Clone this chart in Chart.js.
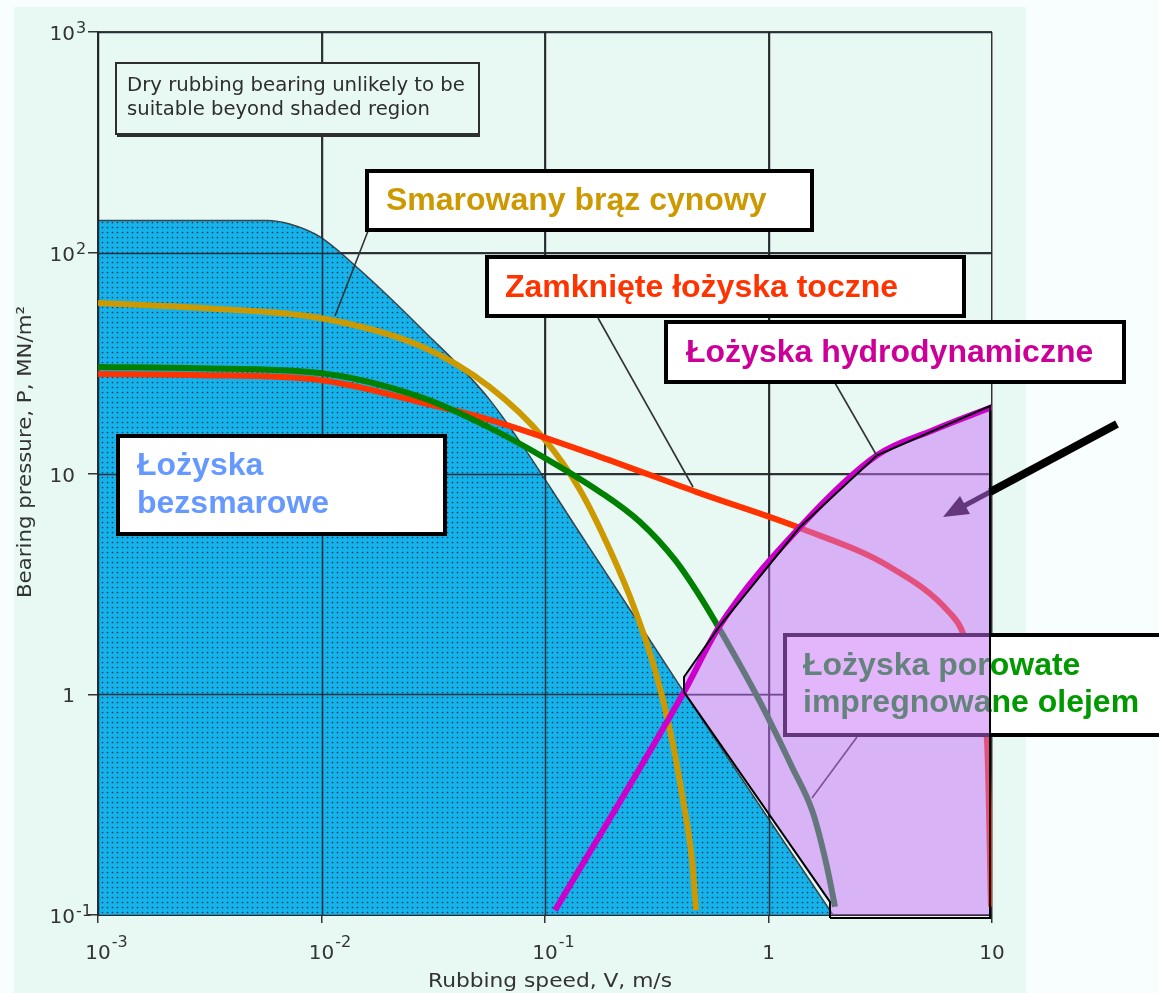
<!DOCTYPE html>
<html>
<head>
<meta charset="utf-8">
<script src="https://cdn.jsdelivr.net/npm/chart.js@4.4.1/dist/chart.umd.min.js"></script>
<style>
  html, body { margin: 0; padding: 0; background: #f8fdfd; overflow: hidden; }
  canvas { display: block; }
</style>
</head>
<body>
<canvas id="c" width="1159" height="993"></canvas>
<script>
// Decade ticks and their printed labels as [base, exponent]
const speedTicks = [0.001, 0.01, 0.1, 1, 10];
const speedTickLabels = [['10', '-3'], ['10', '-2'], ['10', '-1'], ['1', ''], ['10', '']];
const pressureTicks = [0.1, 1, 10, 100, 1000];
const pressureTickLabels = [['10', '-1'], ['1', ''], ['10', ''], ['10', '2'], ['10', '3']];

// Upper limit of dry rubbing bearings (shaded region), V in m/s, P in MN/m2
const dryV = [0.001, 0.0057, 0.0072, 0.00985, 0.0144, 0.0284, 0.0567, 0.155, 0.419, 1.944];
const dryP = [140, 140, 135, 118, 86, 44.7, 21.5, 4.75, 1.02, 0.1];

// Lubricated tin bronze
const bronzeV = [0.001, 0.00286, 0.00985, 0.0284, 0.0567, 0.1, 0.1434, 0.1953, 0.2528, 0.3106, 0.3624, 0.4144, 0.4546, 0.4739];
const bronzeP = [59.2, 56.2, 50.6, 37.4, 24.6, 14.2, 8.42, 4.50, 2.41, 1.29, 0.689, 0.332, 0.178, 0.105];

// Sealed rolling bearings
const rollingV = [0.001, 0.00286, 0.00985, 0.0284, 0.0567, 0.1762, 0.4887, 1.383, 3.497, 6.487, 7.418, 8.391, 9.497, 9.9];
const rollingP = [28.2, 27.9, 26.5, 20.9, 17.5, 11.9, 8.17, 5.66, 3.77, 2.33, 1.89, 1.16, 0.621, 0.109];

// Porous oil-impregnated bearings
const porousV = [0.001, 0.00286, 0.00985, 0.0284, 0.0567, 0.1, 0.1762, 0.2661, 0.3817, 0.4887, 0.6193, 0.9066, 1.274, 1.581, 1.827, 1.984];
const porousP = [30.4, 30.0, 28.5, 22.0, 16.1, 11.75, 8.25, 6.03, 4.06, 2.82, 1.89, 0.942, 0.468, 0.29, 0.165, 0.109];

// Hydrodynamic bearings: lower limit curve
const hydroV = [0.1109, 0.4187, 0.6005, 1.383, 3.058, 5.445, 10];
const hydroP = [0.105, 1.024, 2.02, 5.72, 12.1, 15.7, 20.0];

// Hydrodynamic operating zone (closed outline)
const zoneV = [1.884, 1.884, 0.4187, 0.4187, 0.6005, 1.383, 3.058, 9.797, 9.797, 1.884];
const zoneP = [0.0969, 0.1146, 1.024, 1.197, 2.02, 5.72, 12.1, 20.2, 0.0969, 0.0969];

const pts = (vs, ps) => vs.map((v, i) => ({ x: v, y: ps[i] }));

const canvas = document.getElementById('c');
const ctx = canvas.getContext('2d');

// Halftone dot fill for the dry-rubbing region
function dotPattern() {
  const t = document.createElement('canvas');
  t.width = 5; t.height = 5;
  const g = t.getContext('2d');
  g.fillStyle = '#15b3ec';
  g.fillRect(0, 0, 5, 5);
  g.fillStyle = 'rgba(22,40,58,0.85)';
  g.beginPath();
  g.arc(2.5, 2.5, 0.85, 0, Math.PI * 2);
  g.fill();
  return ctx.createPattern(t, 'repeat');
}

const IDX = { dry: 0, bronze: 1, rolling: 2, porous: 3, zone: 4, hydro: 5, outline: 6 };
const FONT_HAND = '"DejaVu Sans", sans-serif';
const FONT_LABEL = '"Liberation Sans", Arial, sans-serif';

function fitText(c, str, x, y, font, color, align, width) {
  c.save();
  c.font = font;
  c.fillStyle = color;
  c.textBaseline = 'alphabetic';
  c.textAlign = 'left';
  const w = c.measureText(str).width;
  const sx = width ? width / w : 1;
  const drawnW = w * sx;
  let x0 = x;
  if (align === 'center') x0 = x - drawnW / 2;
  if (align === 'right') x0 = x - drawnW;
  c.translate(x0, y);
  c.scale(sx, 1);
  c.fillText(str, 0, 0);
  c.restore();
}

function labelBox(c, x0, y0, x1, y1, lines, color, tx, baselines) {
  c.save();
  c.fillStyle = '#ffffff';
  c.fillRect(x0, y0, x1 - x0, y1 - y0);
  c.lineWidth = 4;
  c.strokeStyle = '#000000';
  c.strokeRect(x0 + 2, y0 + 2, x1 - x0 - 4, y1 - y0 - 4);
  c.font = 'bold 32px ' + FONT_LABEL;
  c.fillStyle = color;
  c.textAlign = 'left';
  c.textBaseline = 'alphabetic';
  lines.forEach((s, i) => c.fillText(s, tx, baselines[i]));
  c.restore();
}

function segment(c, x0, y0, x1, y1, w, color) {
  c.save();
  c.strokeStyle = color;
  c.lineWidth = w;
  c.beginPath();
  c.moveTo(x0, y0);
  c.lineTo(x1, y1);
  c.stroke();
  c.restore();
}

const layers = {
  id: 'layers',
  beforeDraw(chart) {
    const c = chart.ctx;
    c.save();
    c.fillStyle = '#f8fdfd';
    c.fillRect(0, 0, chart.width, chart.height);
    c.fillStyle = '#e8f8f3';
    c.fillRect(14, 7, 1012, chart.height - 7);
    c.restore();
  },
  afterDatasetDraw(chart, args) {
    const c = chart.ctx;
    const { left, right, top, bottom } = chart.chartArea;
    if (args.index === IDX.dry) {
      // decade grid stays visible through the shaded region
      c.save();
      c.beginPath();
      c.rect(left, top, right - left, bottom - top);
      c.clip();
      c.strokeStyle = 'rgba(28,36,44,0.9)';
      c.lineWidth = 1.5;
      speedTicks.forEach(v => {
        const x = Math.round(chart.scales.x.getPixelForValue(v)) + 0.5;
        c.beginPath(); c.moveTo(x, top); c.lineTo(x, bottom); c.stroke();
      });
      pressureTicks.forEach(v => {
        const y = Math.round(chart.scales.y.getPixelForValue(v)) + 0.5;
        c.beginPath(); c.moveTo(left, y); c.lineTo(right, y); c.stroke();
      });
      c.restore();
    }
    if (args.index === IDX.porous) {
      // items lying under the translucent hydrodynamic zone
      segment(c, 857, 737, 812, 798, 1.6, '#333333');
      labelBox(c, 783, 633, 1163, 737, ['Łożyska porowate', 'impregnowane olejem'], '#009900', 803, [675, 712]);
      // pointer arrow
      segment(c, 1117, 424, 990, 492, 8, '#000000');
      segment(c, 990, 492, 962, 507, 5, '#000000');
      c.save();
      c.fillStyle = '#000000';
      c.beginPath();
      c.moveTo(943, 517);
      c.lineTo(960, 496);
      c.lineTo(970, 514);
      c.closePath();
      c.fill();
      c.restore();
    }
  },
  afterDatasetsDraw(chart) {
    const c = chart.ctx;
    // leader lines
    segment(c, 368, 231, 335, 316, 1.6, '#333333');
    segment(c, 598, 318, 693, 487, 1.6, '#333333');
    segment(c, 835, 383, 877, 456, 1.6, '#333333');

    // note box
    c.save();
    c.fillStyle = '#e8f8f3';
    c.fillRect(115, 62, 365, 74);
    c.strokeStyle = '#2e2e2e';
    c.lineWidth = 2;
    c.strokeRect(116, 63, 363, 71);
    c.lineWidth = 2;
    c.beginPath(); c.moveTo(117, 136); c.lineTo(480, 136); c.stroke();
    c.restore();
    fitText(c, 'Dry rubbing bearing unlikely to be', 127, 91, '19px ' + FONT_HAND, '#2e2e2e', 'left', 338);
    fitText(c, 'suitable beyond shaded region', 127, 115, '19px ' + FONT_HAND, '#2e2e2e', 'left', 303);

    labelBox(c, 365, 169, 814, 232, ['Smarowany brąz cynowy'], '#cc9900', 386, [210]);
    labelBox(c, 485, 255, 966, 318, ['Zamknięte łożyska toczne'], '#ff3300', 505, [297]);
    labelBox(c, 664, 320, 1126, 384, ['Łożyska hydrodynamiczne'], '#cc0099', 686, [362]);
    labelBox(c, 116, 434, 447, 536, ['Łożyska', 'bezsmarowe'], '#6699ff', 137, [475, 513]);

    // tick labels
    const xs = chart.scales.x, ys = chart.scales.y;
    c.save();
    c.fillStyle = '#333333';
    c.textBaseline = 'alphabetic';
    speedTicks.forEach((v, i) => {
      const px = xs.getPixelForValue(v);
      const [b, e] = speedTickLabels[i];
      c.font = '20px ' + FONT_HAND;
      const wb = c.measureText(b).width;
      c.textAlign = 'center';
      c.fillText(b, px, 959);
      if (e) {
        c.font = '16px ' + FONT_HAND;
        c.textAlign = 'left';
        c.fillText(e, px + wb / 2 + 1, 947);
      }
    });
    pressureTicks.forEach((v, i) => {
      const py = ys.getPixelForValue(v);
      const [b, e] = pressureTickLabels[i];
      c.font = '20px ' + FONT_HAND;
      c.textAlign = 'right';
      c.fillText(b, 75, py + 8);
      if (e) {
        c.font = '16px ' + FONT_HAND;
        c.textAlign = 'left';
        c.fillText(e, 76, py + 1);
      }
    });
    c.restore();

    // axis titles
    fitText(c, 'Rubbing speed, V, m/s', 550, 987, '20px ' + FONT_HAND, '#333333', 'center', 244);
    c.save();
    c.translate(31, 452);
    c.rotate(-Math.PI / 2);
    fitText(c, 'Bearing pressure, P, MN/m²', 0, 0, '20px ' + FONT_HAND, '#333333', 'center', 292);
    c.restore();
  }
};

const curve = (data, color, order) => ({
  data, borderColor: color, borderWidth: 6, fill: false, pointRadius: 0,
  cubicInterpolationMode: 'monotone', order, borderCapStyle: 'butt'
});

new Chart(ctx, {
  type: 'line',
  data: {
    datasets: [
      {
        data: pts(dryV, dryP), fill: 'start', backgroundColor: dotPattern(),
        borderColor: '#34464e', borderWidth: 1.5, pointRadius: 0,
        cubicInterpolationMode: 'monotone', order: 10
      },
      curve(pts(bronzeV, bronzeP), '#cc9900', 9),
      curve(pts(rollingV, rollingP), '#ff3300', 8),
      curve(pts(porousV, porousP), '#008000', 7),
      {
        data: pts(zoneV, zoneP), fill: 'shape', backgroundColor: 'rgba(200,110,250,0.5)',
        borderColor: 'rgba(0,0,0,0)', borderWidth: 0, pointRadius: 0, tension: 0, order: 6
      },
      curve(pts(hydroV, hydroP), '#cc00cc', 5),
      {
        data: pts(zoneV, zoneP), fill: false, borderColor: '#000000', borderWidth: 2,
        pointRadius: 0, tension: 0, order: 4, clip: 6
      }
    ]
  },
  options: {
    responsive: false,
    animation: false,
    events: [],
    layout: { padding: { top: 32, right: 167, bottom: 0, left: 0 } },
    plugins: { legend: { display: false }, tooltip: { enabled: false } },
    scales: {
      x: {
        type: 'logarithmic', min: 0.001, max: 10,
        afterBuildTicks: s => { s.ticks = speedTicks.map(v => ({ value: v })); },
        afterFit: s => { s.height = 78; },
        ticks: { display: false },
        grid: { color: '#3a3a3a', lineWidth: 1.5, tickLength: 8, tickColor: '#333333' },
        border: { color: '#2a2a2a', width: 2 }
      },
      y: {
        type: 'logarithmic', min: 0.1, max: 1000,
        afterBuildTicks: s => { s.ticks = pressureTicks.map(v => ({ value: v })); },
        afterFit: s => { s.width = 98; },
        ticks: { display: false },
        grid: { color: '#3a3a3a', lineWidth: 1.5, tickLength: 10, tickColor: '#333333' },
        border: { color: '#2a2a2a', width: 2 }
      }
    }
  },
  plugins: [layers]
});
</script>
</body>
</html>
